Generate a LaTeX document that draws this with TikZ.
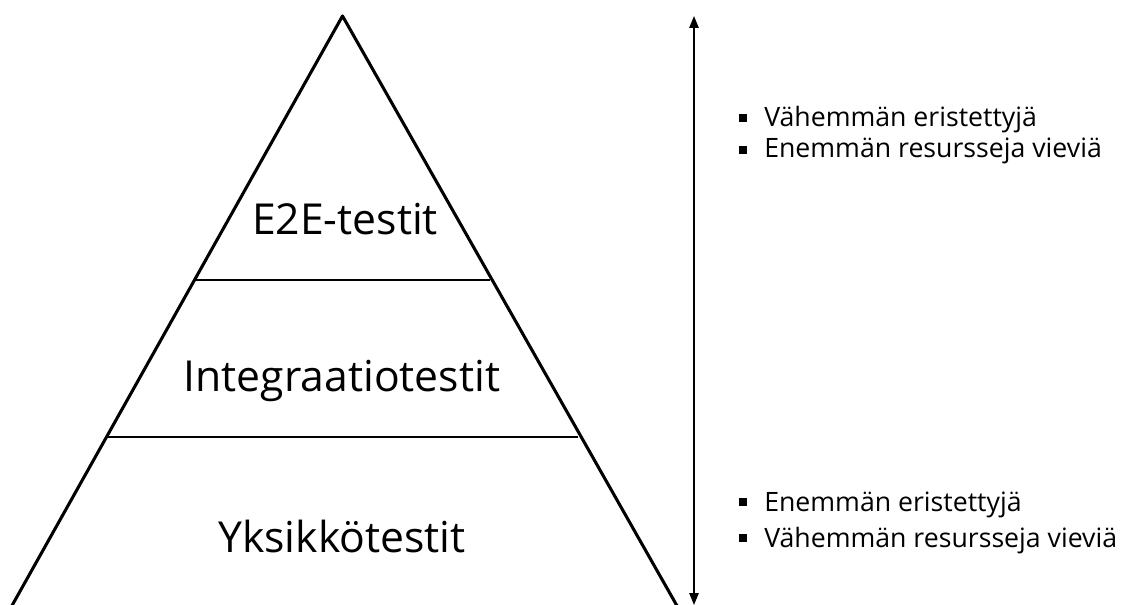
\documentclass[tikz,border=0pt]{standalone}
\usepackage{fontspec}
\setmainfont{Open Sans}
\usetikzlibrary{arrows.meta}
\begin{document}
\begin{tikzpicture}[x=0.75pt,y=-0.75pt,
  edge/.style={line width=2.3pt,line cap=round,line join=round},
  level/.style={font=\fontsize{32}{38}\selectfont,anchor=base,inner sep=0pt},
  note/.style={font=\fontsize{20}{24}\selectfont,anchor=base west,inner sep=0pt},
  bulletmark/.style={fill=black,minimum size=6pt,inner sep=0pt,draw=none}]
\useasboundingbox (0,0) rectangle (1137,605);
\clip (0,0) rectangle (1137,605);
% pyramid outline
\coordinate (apex) at (342.5,16);
\coordinate (bl) at (0,627);
\coordinate (br) at (689,627);
\draw[edge] (bl) -- (apex) -- (br);
% dividing lines
\coordinate (l1) at (195.5,280);
\coordinate (r1) at (489.5,280);
\coordinate (l2) at (107,437);
\coordinate (r2) at (578,437);
\draw[line width=1.5pt] (l1) -- (r1);
\draw[line width=1.5pt] (l2) -- (r2);
% level labels (placed on their baselines)
\node[level] (e2e) at (345,235) {E2E-testit};
\node[level] (integ) at (342,392) {Integraatiotestit};
\node[level] (unit) at (342,552) {Yksikkötestit};
% vertical double arrow
\coordinate (atop) at (694,16);
\coordinate (abot) at (694,605);
\draw[line width=1.3pt,{Triangle[length=9pt,width=7pt]}-{Triangle[length=9pt,width=7pt]}] (atop) -- (abot);
% notes
\node[bulletmark] (b1) at (742.5,118) {};
\node[note] (t1) at (764,127) {Vähemmän eristettyjä};
\node[bulletmark] (b2) at (742.5,150) {};
\node[note] (t2) at (764,158) {Enemmän resursseja vieviä};
\node[bulletmark] (b3) at (742.5,502) {};
\node[note] (t3) at (764,511) {Enemmän eristettyjä};
\node[bulletmark] (b4) at (742.5,538) {};
\node[note] (t4) at (764,547) {Vähemmän resursseja vieviä};
\end{tikzpicture}
\end{document}
